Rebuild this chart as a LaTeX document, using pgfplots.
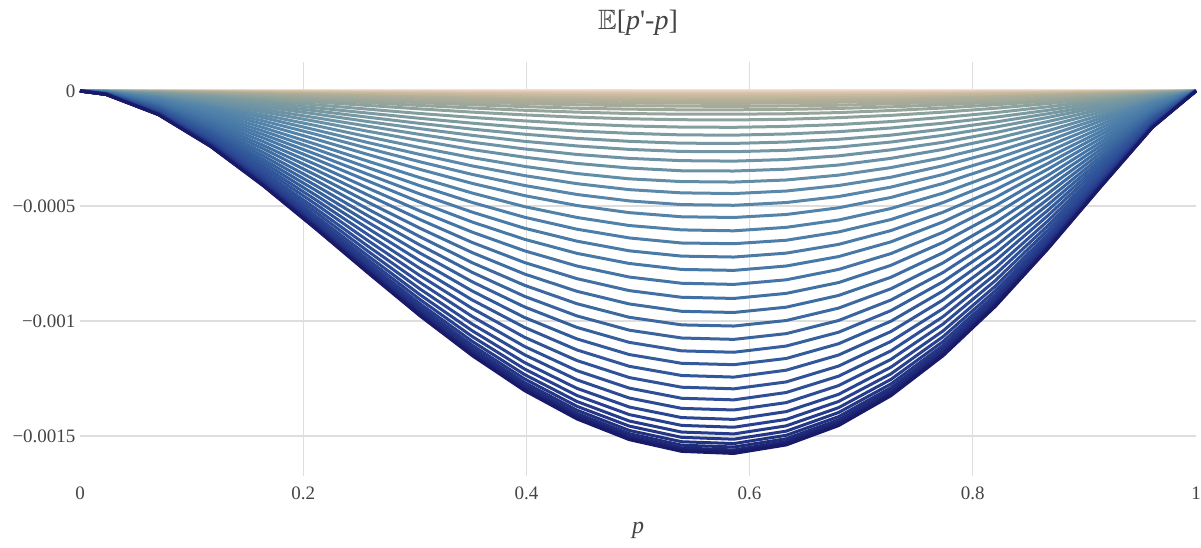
\documentclass[border=0pt]{standalone}
\usepackage{pgfplots}
\pgfplotsset{compat=1.18}
\usepackage{pgfplotstable}
\usepackage{amssymb}
\usepackage{fontspec}
\setmainfont{Liberation Serif}
\definecolor{gridc}{RGB}{222,222,222}
\definecolor{txt}{RGB}{68,68,68}
\pgfplotsset{colormap={curves}{rgb255(0cm)=(244,222,212); rgb255(5cm)=(228,204,182); rgb255(10cm)=(205,188,160); rgb255(15cm)=(180,176,152); rgb255(24cm)=(150,165,155); rgb255(30cm)=(125,155,160); rgb255(39cm)=(105,145,165); rgb255(45cm)=(88,135,170); rgb255(57cm)=(70,120,168); rgb255(65cm)=(60,105,160); rgb255(72cm)=(50,90,155); rgb255(80cm)=(45,75,150); rgb255(90cm)=(35,52,132); rgb255(100cm)=(25,25,105)}}
% each row is one curve: values of E[p'-p] in units of 1e-6 at the p grid
\pgfplotstableread{
name x0 x1 x2 x3 x4 x5 x6 x7 x8 x9 x10 x11 x12 x13 x14 x15 x16 x17 x18 x19 x20 x21 x22
p 0 0.0234 0.0703 0.1172 0.1641 0.2109 0.2578 0.3047 0.3516 0.3984 0.4453 0.4922 0.5391 0.5859 0.6328 0.6797 0.7266 0.7734 0.8203 0.8672 0.9141 0.9609 1
c0 0 0 0 0 0 0 0 0 0 0 0 0 0 0 0 0 0 0 0 0 0 0 0
c1 0 0 -0.1 -0.3 -0.6 -0.8 -1.1 -1.4 -1.6 -1.8 -2.0 -2.1 -2.2 -2.2 -2.1 -2.0 -1.8 -1.6 -1.3 -1.0 -0.6 -0.2 0
c2 0 -0.1 -0.3 -0.8 -1.4 -2.0 -2.6 -3.2 -3.8 -4.3 -4.7 -5.0 -5.2 -5.2 -5.1 -4.8 -4.4 -3.8 -3.1 -2.3 -1.4 -0.5 0
c3 0 -0.1 -0.6 -1.5 -2.5 -3.6 -4.8 -5.9 -7.0 -7.9 -8.7 -9.2 -9.5 -9.6 -9.4 -8.9 -8.1 -7.0 -5.7 -4.2 -2.6 -1.0 0
c4 0 -0.1 -1.0 -2.3 -4.0 -5.8 -7.7 -9.5 -11.2 -12.6 -13.8 -14.7 -15.2 -15.3 -14.9 -14.1 -12.9 -11.2 -9.1 -6.7 -4.1 -1.5 0
c5 0 -0.2 -1.5 -3.5 -5.9 -8.6 -11.4 -14.1 -16.6 -18.8 -20.5 -21.8 -22.6 -22.7 -22.1 -20.9 -19.1 -16.6 -13.5 -9.9 -6.0 -2.3 0
c6 0 -0.3 -2.1 -4.9 -8.3 -12.1 -15.9 -19.7 -23.2 -26.3 -28.8 -30.6 -31.6 -31.8 -31.0 -29.3 -26.7 -23.2 -18.9 -13.9 -8.5 -3.2 0
c7 0 -0.4 -2.8 -6.5 -11.0 -16.0 -21.2 -26.2 -30.9 -34.9 -38.2 -40.7 -42.0 -42.2 -41.3 -39.0 -35.5 -30.9 -25.1 -18.4 -11.3 -4.3 0
c8 0 -1 -4 -8 -14 -20 -27 -33 -39 -44 -48 -52 -53 -54 -52 -49 -45 -39 -32 -23 -14 -5 0
c9 0 -1 -4 -10 -17 -25 -33 -41 -49 -55 -60 -64 -66 -67 -65 -62 -56 -49 -40 -29 -18 -7 0
c10 0 -1 -5 -13 -21 -31 -41 -51 -60 -68 -75 -79 -82 -82 -80 -76 -69 -60 -49 -36 -22 -8 0
c11 0 -1 -7 -16 -27 -39 -51 -63 -74 -84 -92 -98 -101 -101 -99 -94 -85 -74 -60 -44 -27 -10 0
c12 0 -1 -8 -19 -33 -48 -63 -78 -92 -104 -114 -121 -125 -126 -123 -116 -106 -92 -75 -55 -34 -13 0
c13 0 -2 -10 -24 -41 -60 -79 -98 -115 -130 -143 -152 -157 -158 -154 -146 -133 -115 -94 -69 -42 -16 0
c14 0 -2 -13 -29 -50 -73 -96 -119 -140 -159 -174 -184 -191 -192 -187 -177 -161 -140 -114 -84 -51 -19 0
c15 0 -2 -15 -35 -60 -86 -114 -141 -166 -188 -206 -219 -227 -228 -222 -210 -192 -166 -135 -99 -61 -23 0
c16 0 -3 -17 -41 -69 -100 -133 -164 -193 -219 -239 -254 -263 -264 -258 -244 -222 -193 -157 -115 -70 -27 0
c17 0 -3 -20 -47 -80 -116 -153 -189 -223 -252 -276 -293 -303 -305 -298 -282 -256 -223 -181 -133 -81 -31 0
c18 0 -3 -23 -53 -91 -132 -175 -216 -255 -288 -315 -335 -347 -348 -340 -322 -293 -254 -207 -152 -93 -35 0
c19 0 -4 -26 -61 -104 -150 -199 -246 -290 -328 -359 -382 -394 -396 -387 -366 -333 -290 -235 -173 -106 -40 0
c20 0 -4 -29 -68 -116 -169 -224 -276 -326 -368 -403 -429 -443 -446 -435 -411 -375 -325 -265 -194 -119 -45 0
c21 0 -5 -33 -76 -130 -188 -249 -308 -363 -411 -450 -478 -494 -497 -485 -459 -418 -363 -295 -217 -132 -50 0
c22 0 -5 -36 -84 -144 -209 -276 -341 -402 -455 -498 -529 -547 -550 -537 -508 -463 -402 -327 -240 -147 -55 0
c23 0 -6 -40 -93 -159 -231 -305 -377 -444 -503 -550 -585 -604 -608 -593 -561 -511 -444 -361 -265 -162 -61 0
c24 0 -6 -44 -102 -174 -252 -333 -412 -485 -549 -601 -639 -661 -664 -649 -613 -559 -485 -394 -290 -177 -67 0
c25 0 -7 -47 -111 -189 -274 -362 -448 -527 -597 -653 -695 -718 -722 -705 -667 -607 -527 -429 -315 -192 -73 0
c26 0 -8 -51 -120 -204 -296 -391 -484 -570 -645 -706 -750 -776 -780 -761 -720 -656 -569 -463 -340 -208 -79 0
c27 0 -8 -55 -129 -220 -319 -422 -522 -614 -695 -761 -809 -836 -841 -821 -776 -707 -614 -499 -367 -224 -85 0
c28 0 -9 -59 -138 -236 -342 -452 -559 -659 -746 -816 -868 -897 -902 -880 -833 -758 -658 -535 -393 -240 -91 0
c29 0 -9 -63 -148 -251 -365 -483 -597 -703 -796 -871 -926 -958 -963 -940 -889 -810 -703 -572 -420 -256 -97 0
c30 0 -10 -67 -157 -267 -388 -513 -634 -747 -845 -925 -984 -1017 -1022 -998 -944 -860 -747 -607 -446 -272 -103 0
c31 0 -10 -71 -166 -282 -410 -542 -670 -789 -893 -978 -1040 -1074 -1080 -1055 -998 -909 -789 -641 -471 -288 -109 0
c32 0 -11 -74 -174 -297 -431 -570 -705 -830 -939 -1028 -1093 -1130 -1136 -1109 -1049 -955 -829 -674 -495 -303 -114 0
c33 0 -12 -78 -183 -311 -452 -597 -739 -870 -985 -1078 -1146 -1184 -1190 -1163 -1099 -1001 -869 -707 -519 -317 -120 0
c34 0 -12 -82 -191 -325 -472 -624 -772 -909 -1028 -1126 -1197 -1237 -1244 -1214 -1148 -1046 -908 -738 -542 -331 -125 0
c35 0 -13 -85 -199 -338 -491 -650 -803 -946 -1071 -1172 -1246 -1288 -1295 -1265 -1196 -1089 -946 -769 -565 -345 -130 0
c36 0 -13 -88 -206 -351 -510 -674 -833 -981 -1111 -1216 -1292 -1336 -1343 -1311 -1240 -1130 -981 -797 -586 -358 -135 0
c37 0 -13 -91 -213 -362 -526 -696 -861 -1014 -1147 -1256 -1335 -1380 -1387 -1355 -1281 -1167 -1013 -824 -605 -370 -140 0
c38 0 -14 -94 -219 -373 -542 -716 -886 -1043 -1181 -1293 -1374 -1420 -1428 -1394 -1319 -1201 -1043 -848 -623 -380 -144 0
c39 0 -14 -96 -224 -382 -555 -733 -907 -1068 -1209 -1324 -1407 -1454 -1462 -1428 -1350 -1230 -1068 -868 -638 -390 -147 0
c40 0 -14 -98 -229 -389 -566 -748 -925 -1089 -1233 -1350 -1435 -1483 -1491 -1456 -1377 -1254 -1089 -885 -650 -397 -150 0
c41 0 -15 -99 -232 -396 -575 -759 -939 -1106 -1252 -1371 -1457 -1506 -1514 -1479 -1398 -1274 -1106 -899 -660 -403 -153 0
c42 0 -15 -101 -235 -401 -582 -769 -951 -1120 -1268 -1388 -1476 -1525 -1533 -1497 -1416 -1290 -1120 -910 -669 -408 -154 0
c43 0 -15 -102 -238 -404 -588 -777 -961 -1131 -1281 -1402 -1490 -1540 -1548 -1512 -1430 -1302 -1131 -919 -675 -413 -156 0
c44 0 -15 -102 -239 -408 -592 -783 -968 -1140 -1291 -1413 -1502 -1552 -1561 -1524 -1441 -1313 -1140 -927 -681 -416 -157 0
c45 0 -15 -103 -241 -410 -596 -787 -974 -1147 -1298 -1421 -1510 -1561 -1569 -1533 -1449 -1320 -1146 -932 -684 -418 -158 0
c46 0 -15 -103 -242 -412 -598 -790 -978 -1151 -1303 -1426 -1516 -1567 -1576 -1539 -1455 -1325 -1151 -936 -687 -420 -159 0
}\raw
\pgfplotstabletranspose[colnames from=name]\data\raw
\begin{document}
\begin{tikzpicture}[x=1pt,y=1pt]
\useasboundingbox (0,0) rectangle (1201,548);
\begin{axis}[
  at={(80pt,72pt)}, anchor=south west,
  scale only axis, width=1116pt, height=414pt,
  xmin=0, xmax=1, ymin=-1674, ymax=126,
  axis line style={draw=none},
  tick style={draw=none},
  grid=major, major grid style={gridc, line width=1.3pt},
  xtick={0.2,0.4,0.6,0.8},
  xticklabels={0.2,0.4,0.6,0.8},
  extra x ticks={0,1}, extra x tick labels={0,1},
  extra x tick style={grid=none},
  ytick={-1500,-1000,-500,0},
  yticklabels={−0.0015,−0.001,−0.0005,0},
  ticklabel style={font=\fontsize{19}{22}\selectfont, text=txt},
  xticklabel style={yshift=-7pt},
  yticklabel style={xshift=-1pt},
  title={\fontsize{28}{32}\selectfont $\mathbb{E}$[\textit{p}\textquotesingle-\textit{p}]},
  title style={text=txt, at={(0.5,1)}, yshift=17pt},
  xlabel={\fontsize{24}{28}\selectfont\textit{p}},
  xlabel style={text=txt, yshift=-16pt},
  clip=false,
  colormap name=curves,
]
\foreach \k in {0,...,46}{
  \pgfmathtruncatemacro\cv{round(\k/46*1000)}
  \edef\temp{\noexpand\addplot[line width=3pt, line join=round, color of colormap={\cv\space of curves}] table[x=p,y=c\k]{\noexpand\data};}
  \temp
}
\end{axis}
\end{tikzpicture}
\end{document}
